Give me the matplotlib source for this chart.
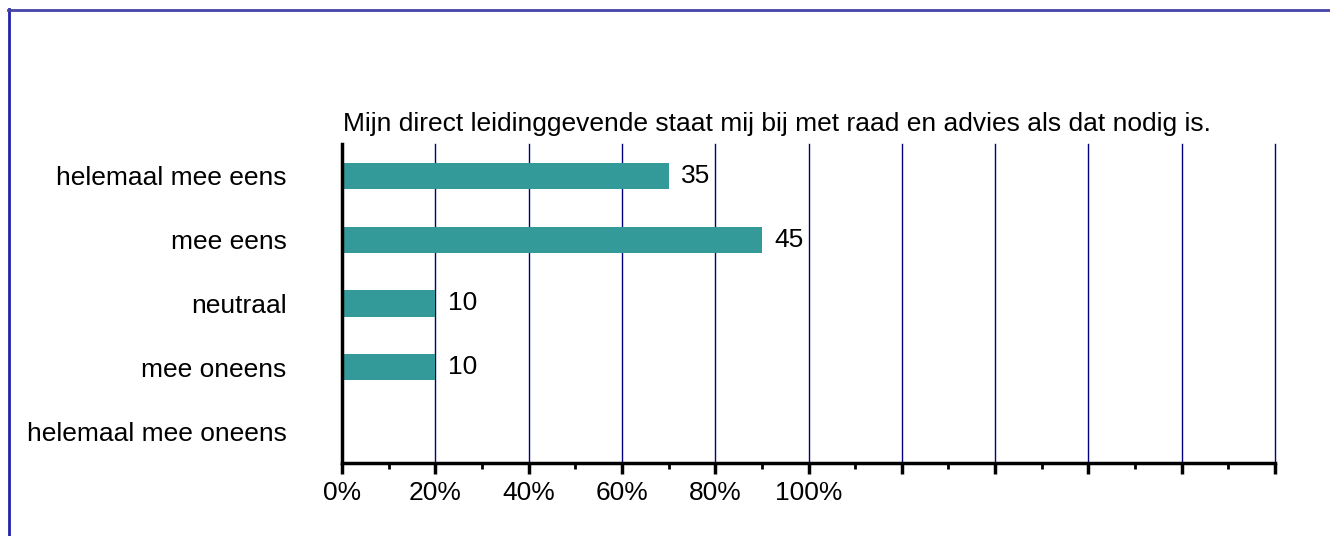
import matplotlib
matplotlib.use("Agg")
import matplotlib.pyplot as plt
from matplotlib.lines import Line2D
from matplotlib.ticker import MultipleLocator, FixedLocator, FixedFormatter

categories = ["helemaal mee eens", "mee eens", "neutraal", "mee oneens", "helemaal mee oneens"]
values = [35, 45, 10, 10, 0]
tick_positions = [0, 10, 20, 30, 40, 50, 60, 70, 80, 90, 100]
tick_labels = ["0%", "20%", "40%", "60%", "80%", "100%", "", "", "", "", ""]
title = "Mijn direct leidinggevende staat mij bij met raad en advies als dat nodig is."

plt.rcParams['font.family'] = ['Liberation Sans', 'DejaVu Sans']
FS = 19

W, H = 1330, 536
fig = plt.figure(figsize=(W / 100, H / 100), dpi=100)
fig.patch.set_facecolor('white')

# outer border (top and left only visible)
fig.add_artist(Line2D([8.5 / W, 8.5 / W], [0, 1 - 9 / H], transform=fig.transFigure,
                      color='#2222aa', lw=2))
fig.add_artist(Line2D([8 / W, 1], [1 - 9.5 / H, 1 - 9.5 / H], transform=fig.transFigure,
                      color='#4444aa', lw=2))

left, right = 342 / W, 1275 / W
top, bottom = 1 - 144 / H, 1 - 463 / H
ax = fig.add_axes([left, bottom, right - left, top - bottom])

ypos = list(range(len(categories)))
ax.barh(ypos, values, height=0.41, color='#339999', zorder=3)
for y, v in zip(ypos, values):
    if v > 0:
        ax.annotate(str(v), xy=(v, y), xytext=(9, 0), textcoords='offset points',
                    ha='left', va='center', fontsize=FS, color='black', zorder=4)

ax.set_xlim(0, 100)
ax.set_ylim(len(categories) - 0.5, -0.5)

ax.xaxis.set_major_locator(FixedLocator(tick_positions))
ax.xaxis.set_major_formatter(FixedFormatter(tick_labels))
ax.xaxis.set_minor_locator(MultipleLocator(5))
ax.tick_params(axis='x', which='major', length=8, width=2.5, color='black',
               labelsize=FS, pad=5, direction='out')
ax.tick_params(axis='x', which='minor', length=4, width=2, color='black', direction='out')

ax.set_yticks(ypos)
ax.set_yticklabels(categories, fontsize=FS)
ax.tick_params(axis='y', which='both', length=0, pad=40)

ax.grid(axis='x', which='major', color='#000080', lw=1, zorder=1)
ax.set_axisbelow(True)
for gl in ax.get_xgridlines():
    gl.set_clip_on(False)

for s in ['top', 'right']:
    ax.spines[s].set_visible(False)
ax.spines['left'].set_linewidth(2.5)
ax.spines['bottom'].set_linewidth(2.5)
ax.spines['left'].set_zorder(5)

fig.text(343 / W, 1 - 131 / H, title, ha='left', va='baseline', fontsize=FS, color='black')

fig.savefig("out.png", dpi=100, facecolor='white')
